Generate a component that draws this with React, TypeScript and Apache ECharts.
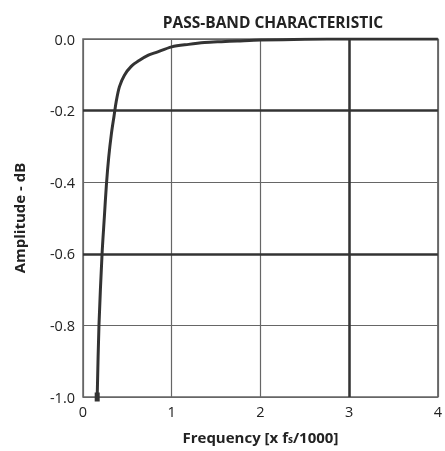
import React, { useEffect, useRef } from "react";
import * as echarts from "echarts";

// Frequency (x fs/1000) and amplitude (dB) along the pass-band response
const freq = [
  0.16, 0.18, 0.215, 0.24, 0.263, 0.29, 0.32, 0.35, 0.374, 0.411, 0.467, 0.541,
  0.633, 0.737, 0.819, 1.0, 1.19, 1.37, 1.56, 1.74, 2.0, 2.5, 3.0, 3.5, 4.0,
];
const amplitude = [
  -1.0, -0.8, -0.6, -0.5, -0.41, -0.33, -0.265, -0.215, -0.175, -0.133, -0.101, -0.077,
  -0.06, -0.045, -0.038, -0.022, -0.015, -0.01, -0.0075, -0.0056, -0.003, -0.001, 0, 0, 0,
];

// Emphasised grid lines
const heavyX = [3];
const heavyY = [-0.2, -0.6];

const FONT = "'Open Sans', 'DejaVu Sans', sans-serif";

export default function App() {
  const ref = useRef<HTMLDivElement>(null);

  useEffect(() => {
    if (!ref.current) return;
    const chart = echarts.init(ref.current, undefined, { renderer: "svg" });

    const data = freq.map((f, i) => {
      const v = [f, amplitude[i]];
      return i === 0
        ? { value: v, symbol: "rect", symbolSize: [5, 9], itemStyle: { color: "#333" } }
        : { value: v };
    });

    chart.setOption({
      animation: false,
      title: {
        text: "PASS-BAND CHARACTERISTIC",
        left: 268,
        top: 9,
        textAlign: "center",
        textStyle: { fontFamily: FONT, fontWeight: "bold", fontSize: 15.5, color: "#222" },
      },
      grid: {
        left: 83,
        right: 2,
        top: 39,
        bottom: 54,
        show: true,
        borderColor: "#666",
        borderWidth: 1.5,
      },
      xAxis: {
        type: "value",
        min: 0,
        max: 4,
        interval: 1,
        name: "{a|Frequency [x f}{b|s}{a|/1000]}",
        nameLocation: "middle",
        nameGap: 32,
        nameTextStyle: {
          rich: {
            a: { fontFamily: FONT, fontWeight: "bold", fontSize: 15, color: "#222" },
            b: { fontFamily: FONT, fontWeight: "bold", fontSize: 10, color: "#222", padding: [5, 0, 0, 0] },
          },
        },
        axisLine: { show: false },
        axisTick: { show: false },
        axisLabel: { fontFamily: FONT, fontSize: 14.5, color: "#222", margin: 7 },
        splitLine: { show: true, lineStyle: { color: "#666", width: 1.2 } },
      },
      yAxis: {
        type: "value",
        min: -1,
        max: 0,
        interval: 0.2,
        name: "Amplitude - dB",
        nameLocation: "middle",
        nameGap: 57,
        nameTextStyle: { fontFamily: FONT, fontWeight: "bold", fontSize: 15, color: "#222" },
        axisLine: { show: false },
        axisTick: { show: false },
        axisLabel: {
          fontFamily: FONT,
          fontSize: 14.5,
          color: "#222",
          margin: 8,
          formatter: (v: number) => v.toFixed(1),
        },
        splitLine: { show: true, lineStyle: { color: "#666", width: 1.2 } },
      },
      series: [
        {
          type: "line",
          data,
          smooth: 0.3,
          symbol: "none",
          showSymbol: true,
          lineStyle: { color: "#333", width: 3 },
          markLine: {
            silent: true,
            symbol: "none",
            label: { show: false },
            lineStyle: { color: "#333", width: 2.5, type: "solid" },
            data: [
              ...heavyX.map((x) => ({ xAxis: x })),
              ...heavyY.map((y) => ({ yAxis: y })),
            ],
          },
          z: 3,
        },
      ],
    });

    return () => chart.dispose();
  }, []);

  return (
    <div
      ref={ref}
      style={{ position: "fixed", left: 0, top: 0, width: 445, height: 451 }}
    />
  );
}
